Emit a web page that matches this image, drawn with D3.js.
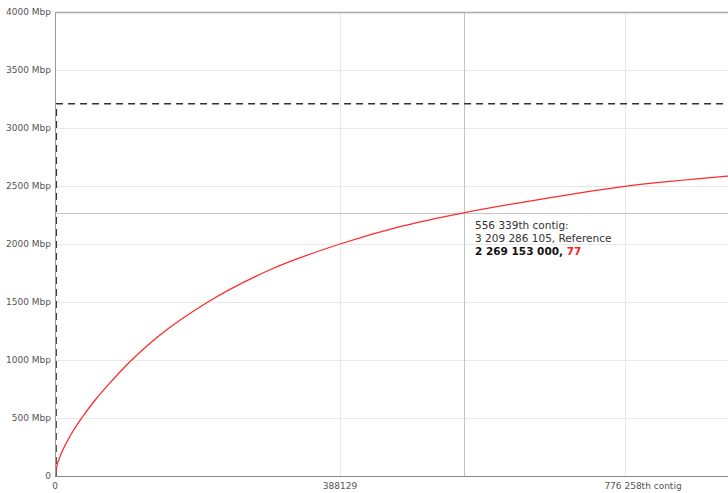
<!DOCTYPE html>
<html>
<head>
<meta charset="utf-8">
<script src="https://cdn.jsdelivr.net/npm/d3@7"></script>
<style>
  html, body { margin: 0; padding: 0; background: #fff; }
  svg { display: block; font-family: "DejaVu Sans", sans-serif; }
</style>
</head>
<body>
<svg id="chart" width="728" height="493"></svg>
<script>
// Cumulative length of the assembly, contigs sorted by size (Mbp)
const contigIndex = [0, 2724, 6809, 11303, 17704, 25875, 36362, 54474, 74902, 104455, 142995, 206594, 292800, 388129, 469842, 556339, 660502, 776258, 916540, 1000000];
const cumulativeMbp = [0, 91, 167, 233, 313, 401, 500, 653, 803, 1000, 1216, 1494, 1778, 2000, 2150, 2269.153, 2385, 2497, 2586, 2632];

// Reference genome: few chromosome-sized contigs, then flat at total length
const refIndex = [0, 455, 1200000];
const refMbp = [0, 3209.286105, 3209.286105];

// Axis ticks
const yTicks = [0, 500, 1000, 1500, 2000, 2500, 3000, 3500, 4000];
const xTicks = [0, 388129, 776258];
const xTickLabels = ["0", "388129", "776 258"];

// Hovered point
const hoverIndex = 556339;
const hoverMbp = 2269.153;
const hoverLines = ["556 339th contig:", "3 209 286 105, Reference"];
const hoverAssembly = "2 269 153 000, ";
const hoverN = "77";

(function () {
  const svg = d3.select("#chart");
  const mLeft = 55, mTop = 12, mBottom = 476, W = 728;

  const x = d3.scaleLinear().domain([0, 388129 * 3]).range([mLeft, mLeft + 285 * 3]);
  const y = d3.scaleLinear().domain([0, 4000]).range([mBottom, mTop]);

  svg.append("defs").append("clipPath").attr("id", "plot")
    .append("rect").attr("x", mLeft).attr("y", mTop - 2)
    .attr("width", W - mLeft).attr("height", mBottom - mTop + 2);

  // Horizontal gridlines
  svg.append("g").selectAll("line").data(yTicks.filter(d => d > 0 && d < 4000)).join("line")
    .attr("x1", mLeft).attr("x2", W)
    .attr("y1", d => Math.round(y(d)) + 0.5).attr("y2", d => Math.round(y(d)) + 0.5)
    .attr("stroke", "#e8e8e8").attr("stroke-width", 1);

  // Vertical gridlines
  svg.append("g").selectAll("line").data(xTicks.filter(d => d > 0)).join("line")
    .attr("x1", d => Math.round(x(d)) + 0.5).attr("x2", d => Math.round(x(d)) + 0.5)
    .attr("y1", mTop).attr("y2", mBottom)
    .attr("stroke", "#e8e8e8").attr("stroke-width", 1);

  // Crosshair at hovered point
  const hx = Math.round(x(hoverIndex)) + 0.5;
  const hy = Math.round(y(hoverMbp)) + 0.5;
  svg.append("line").attr("x1", hx).attr("x2", hx).attr("y1", mTop).attr("y2", mBottom)
    .attr("stroke", "#c4c4c4").attr("stroke-width", 1);
  svg.append("line").attr("x1", mLeft).attr("x2", W).attr("y1", hy).attr("y2", hy)
    .attr("stroke", "#c4c4c4").attr("stroke-width", 1);

  const plot = svg.append("g").attr("clip-path", "url(#plot)");

  // Reference line (dashed)
  const refLine = d3.line().x((d, i) => x(refIndex[i])).y((d, i) => y(refMbp[i]));
  plot.append("path").datum(refIndex)
    .attr("d", refLine)
    .attr("transform", "translate(1,0)")
    .attr("fill", "none").attr("stroke", "#333").attr("stroke-width", 1.6)
    .attr("stroke-dasharray", "7,5");

  // Assembly cumulative curve
  const asmLine = d3.line().curve(d3.curveMonotoneX)
    .x((d, i) => x(contigIndex[i])).y((d, i) => y(cumulativeMbp[i]));
  plot.append("path").datum(contigIndex)
    .attr("d", asmLine)
    .attr("fill", "none").attr("stroke", "#ff2a2a").attr("stroke-width", 1.3);

  // Frame: left axis, top border, bottom axis
  svg.append("line").attr("x1", mLeft + 0.5).attr("x2", mLeft + 0.5).attr("y1", mTop).attr("y2", mBottom)
    .attr("stroke", "#999").attr("stroke-width", 1);
  svg.append("line").attr("x1", mLeft).attr("x2", W).attr("y1", mTop + 0.5).attr("y2", mTop + 0.5)
    .attr("stroke", "#aaa").attr("stroke-width", 1.5);
  svg.append("line").attr("x1", mLeft).attr("x2", W).attr("y1", mBottom + 0.5).attr("y2", mBottom + 0.5)
    .attr("stroke", "#888").attr("stroke-width", 1);

  // Y tick labels
  svg.append("g").selectAll("text").data(yTicks).join("text")
    .attr("x", 51).attr("y", d => y(d) + 3)
    .attr("text-anchor", "end")
    .attr("font-size", 9).attr("fill", "#555")
    .text(d => d === 0 ? "0" : d + " Mbp");

  // X tick labels
  const xl = svg.append("g");
  xTicks.forEach((t, i) => {
    if (i < xTicks.length - 1) {
      xl.append("text").attr("x", x(t)).attr("y", 489).attr("text-anchor", "middle")
        .attr("font-size", 9).attr("fill", "#555").text(xTickLabels[i]);
    } else {
      const txt = xl.append("text").attr("y", 489).attr("font-size", 9).attr("fill", "#555");
      txt.append("tspan").text(xTickLabels[i]);
      txt.append("tspan").text("th contig");
      const w = txt.select("tspan").node().getComputedTextLength();
      txt.attr("x", x(t) - w / 2 - 2);
    }
  });

  // Hover label
  const tip = svg.append("g").attr("font-size", 10.5).attr("fill", "#333");
  hoverLines.forEach((s, i) => {
    tip.append("text").attr("x", 475).attr("y", 229 + i * 13).text(s);
  });
  const last = tip.append("text").attr("x", 475).attr("y", 255).attr("font-weight", "bold");
  last.append("tspan").attr("fill", "#111").text(hoverAssembly);
  last.append("tspan").attr("fill", "#ff2020").text(hoverN);
})();
</script>
</body>
</html>
